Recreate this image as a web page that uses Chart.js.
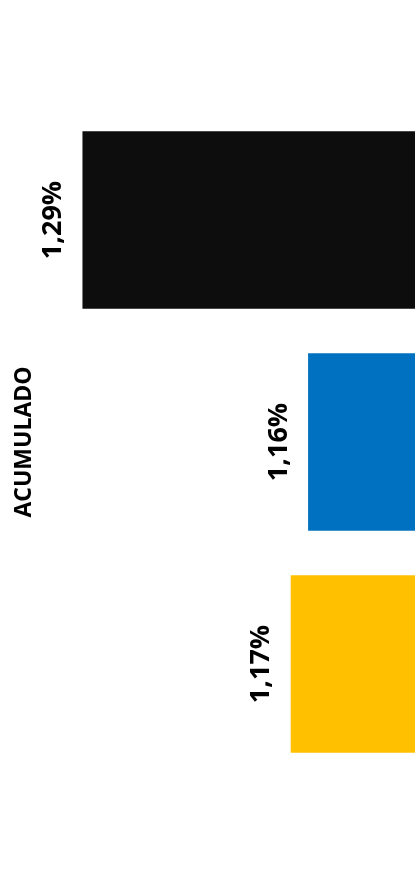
<!DOCTYPE html>
<html>
<head>
<meta charset="utf-8">
<script src="https://cdn.jsdelivr.net/npm/chart.js@4"></script>
<style>
  html, body { margin: 0; padding: 0; background: #fff; }
  #wrap { width: 415px; height: 890px; }
</style>
</head>
<body>
<div id="wrap"><canvas id="mychart"></canvas></div>
<script>
const categories = ['ACUMULADO'];
const seriesNames = ['Serie 1', 'Serie 2', 'Serie 3'];
const seriesValues = [1.29, 1.16, 1.17];
const seriesColors = ['#0d0d0d', '#0070c0', '#ffc000'];

// value labels, written the spanish way (comma decimals), turned on their side
const valueLabels = {
    id: 'valueLabels',
    afterDatasetsDraw(chart) {
        const c = chart.ctx;
        c.save();
        c.font = '700 27px "Open Sans"';
        c.fillStyle = '#000';
        c.textAlign = 'center';
        c.textBaseline = 'middle';
        chart.data.datasets.forEach((ds, i) => {
            const bar = chart.getDatasetMeta(i).data[0];
            const txt = ds.data[0].toFixed(2).replace('.', ',') + '%';
            c.save();
            c.translate(bar.x - 29, bar.y);
            c.rotate(-Math.PI / 2);
            c.fillText(txt, 0, 0);
            c.restore();
        });
        c.restore();
    }
};

const ctx = document.getElementById('mychart').getContext('2d');
let mychart = new Chart(ctx, {
    type: 'bar',
    data: {
        labels: categories,
        datasets: seriesNames.map((name, i) => ({
            label: name,
            data: [seriesValues[i]],
            backgroundColor: seriesColors[i],
            borderWidth: 0
        }))
    },
    options: {
        indexAxis: 'y',
        responsive: true,
        maintainAspectRatio: false,
        animation: false,
        layout: { padding: { top: 109, bottom: 115, left: 0, right: 0 } },
        datasets: { bar: { categoryPercentage: 1, barPercentage: 0.8 } },
        plugins: { legend: { display: false }, tooltip: { enabled: false } },
        scales: {
            x: {
                display: false,
                reverse: true,
                min: 1.0984,
                max: 1.3087
            },
            y: {
                grid: { display: false },
                border: { display: false },
                ticks: { display: false },
                title: {
                    display: true,
                    text: 'ACUMULADO',
                    color: '#000',
                    font: { family: 'Open Sans', size: 23, weight: '700' },
                    padding: { top: 11, bottom: 0 }
                },
                afterFit(scale) { scale.width = 50; }
            }
        }
    },
    plugins: [valueLabels]
});
</script>
</body>
</html>
